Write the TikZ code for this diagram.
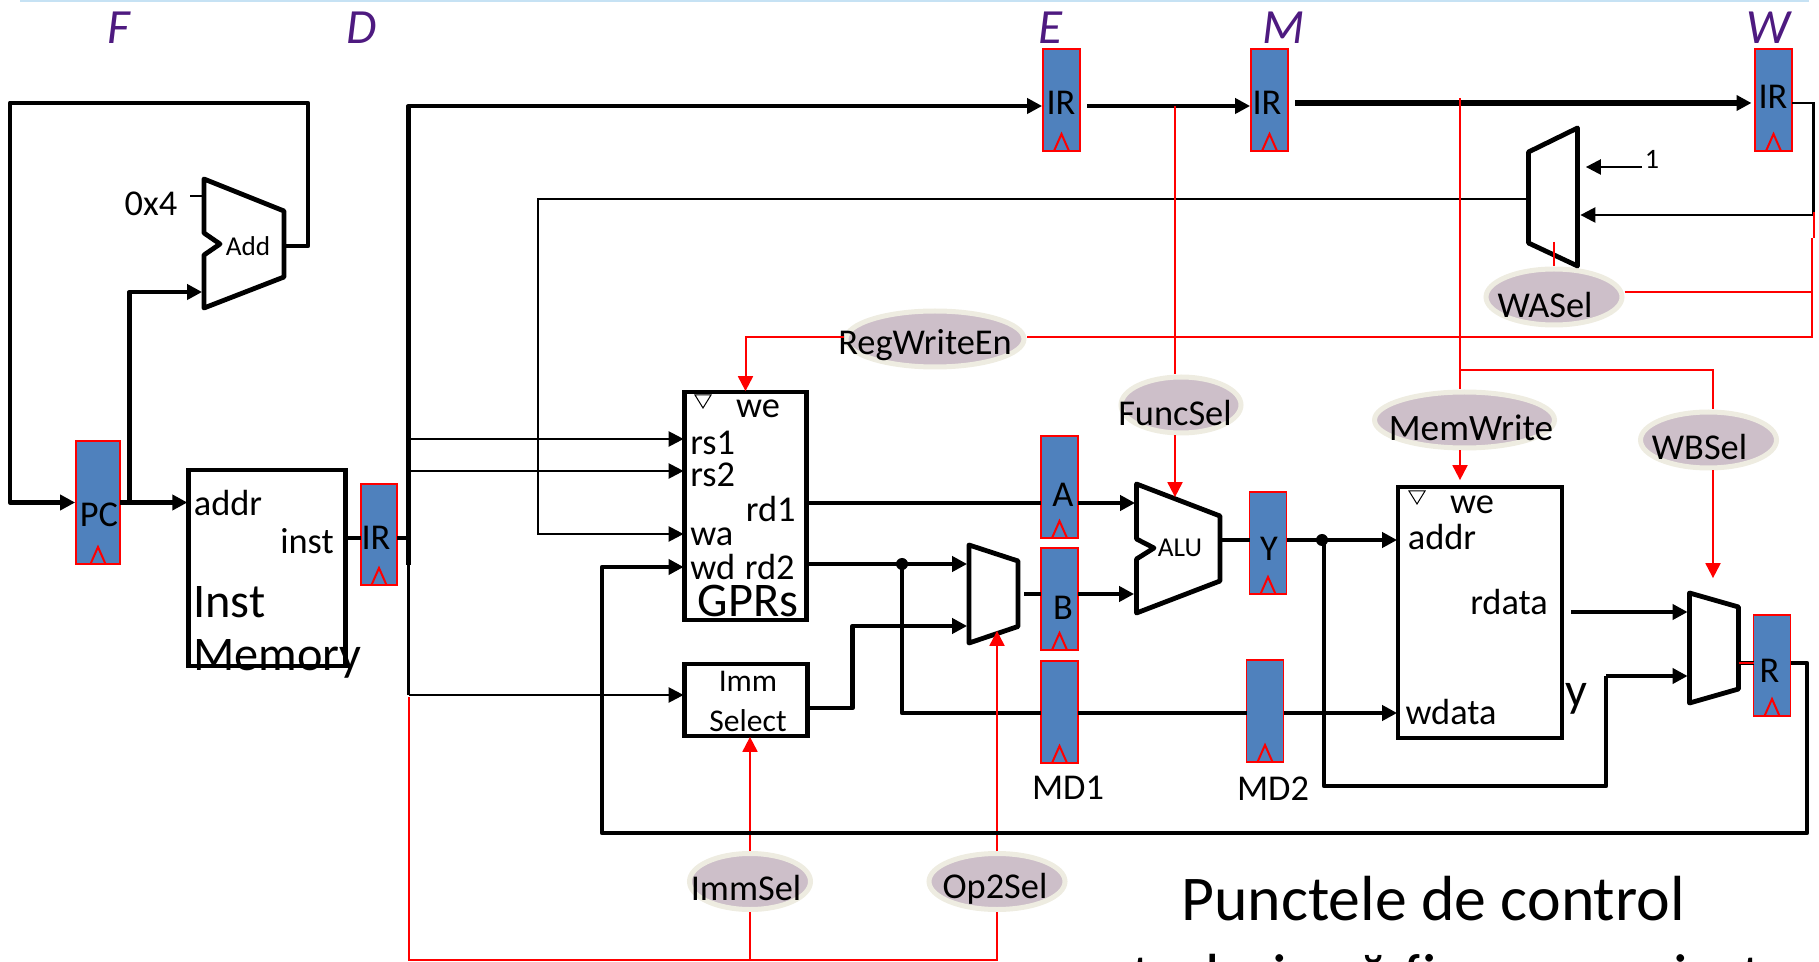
\documentclass[tikz,border=0pt]{standalone}
\usepackage{fontspec}
\setmainfont{Carlito}
\usepackage{xcolor}
\usetikzlibrary{arrows.meta,shapes.geometric}
\definecolor{regblue}{HTML}{4F81BD}
\definecolor{ctlfill}{HTML}{CDBFC9}
\definecolor{ctledge}{HTML}{EEECE1}
\definecolor{stagepurple}{HTML}{4E1A80}
\definecolor{rulesky}{HTML}{C6E2F4}
\def\u{0.02cm}
\tikzset{
  lbl/.style={inner sep=0pt, font=\fontsize{20.7}{25}\selectfont},
  biglbl/.style={inner sep=0pt, font=\fontsize{27.5}{33}\selectfont},
  smalllbl/.style={inner sep=0pt, font=\fontsize{15.5}{19}\selectfont},
  immlbl/.style={inner sep=0pt, font=\fontsize{18}{22}\selectfont},
  stagelbl/.style={inner sep=0pt, text=stagepurple, font=\fontsize{28}{34}\selectfont\itshape},
  box/.style={draw, line width=4.8*\u, outer sep=0pt, inner sep=0pt},
  reg/.style={draw=red, fill=regblue, line width=1.8*\u, outer sep=0pt, inner sep=0pt},
  ctl/.style={ellipse, draw=ctledge, fill=ctlfill, line width=5*\u, inner sep=0pt},
  mux/.style={draw, fill=white, line width=4.8*\u, line join=round},
  bus/.style={line width=4.8*\u, line join=round},
  wire/.style={line width=2.4*\u},
  ctlwire/.style={red, line width=2*\u},
  arr/.style={-{Triangle[length=8.5pt,width=8.5pt]}, shorten >=0.5pt},
}
\begin{document}
\begin{tikzpicture}[x=\u, y=-\u]
  \useasboundingbox (0,0) rectangle (1819,962);
  \clip (0,0) rectangle (1819,962);
  \coordinate (ruleL) at (20,1);
  \coordinate (ruleR) at (1809,1);
  \draw[rulesky, line width=2*\u] (ruleL) -- (ruleR);
  % Pipeline stage letters.
  \foreach \n/\x/\t in {F/119/F,D/362/D,E/1050/E,M/1284/M,W/1768/W} {
    \node[stagelbl] (stage\n) at (\x,28) {\t};
  }
  % Big blocks.
  \node[box, minimum width=157.5*\u, minimum height=196*\u] (inst) at (267,568) {};
  \node[box, minimum width=122*\u, minimum height=228*\u] (gprs) at (745.5,506) {};
  \node[box, minimum width=123*\u, minimum height=72*\u] (imm) at (746,700) {};
  \node[box, minimum width=164*\u, minimum height=251*\u] (dmem) at (1480,612.5) {};
  % Pipeline registers with their clock wedge.
  \foreach \n/\x/\y/\w/\h in {regPC/98/502.5/44/123, regD/379/534.5/36/101,
    regE/1061.5/100/37/102, regM/1269.5/100/37/102, regW/1773.5/100/37/102,
    regA/1059.5/487/37/102, regB/1059.5/599/37/102, regMA/1059.5/712/37/102,
    regY/1268/543/37/102, regMB/1265/711/37/102, regR/1772/665.5/37/101} {
    \node[reg, minimum width=\w*\u, minimum height=\h*\u] (\n) at (\x,\y) {};
    \draw[red, line width=2*\u] ([xshift=-7.5*\u]\n.south) -- ([yshift=17*\u]\n.south) -- ([xshift=7.5*\u]\n.south);
  }
  % Text inside the registers and the blocks.
  \node[lbl] (tPC) at (99,515) {PC};
  \node[lbl] (tIRd) at (376,538) {IR};
  \node[lbl] (tIRe) at (1061,103) {IR};
  \node[lbl] (tIRm) at (1267,103) {IR};
  \node[lbl] (tIRw) at (1773,97) {IR};
  \node[lbl] (tA) at (1063,495) {A};
  \node[lbl] (tB) at (1063,608) {B};
  \node[lbl] (tY) at (1269,549) {Y};
  \node[lbl] (tR) at (1769.5,671) {R};
  \node[lbl] (tMDa) at (1068,788) {MD1};
  \node[lbl] (tMDb) at (1273,789) {MD2};
  \node[lbl] (tAddr) at (228,503) {addr};
  \node[lbl] (tInst) at (307,541) {inst};
  \node[biglbl, anchor=west] (tIname) at (193,602) {Inst};
  \node[biglbl, anchor=base west] (tMname) at (193,670) {Memory};
  \node[lbl] (t0x) at (151,204) {0x4};
  \node[lbl] (tWe) at (758,409) {we};
  \node[lbl, anchor=west] (tRsa) at (690,443) {rs1};
  \node[lbl, anchor=west] (tRsb) at (690,475) {rs2};
  \node[lbl, anchor=east] (tRda) at (796,509) {rd1};
  \node[lbl, anchor=west] (tWa) at (690,537) {wa};
  \node[lbl, anchor=west] (tWd) at (690,567) {wd};
  \node[lbl, anchor=east] (tRdb) at (795,567) {rd2};
  \node[biglbl] (tGprs) at (748,601) {GPRs};
  \node[immlbl] (tImm) at (748,681) {Imm};
  \node[immlbl] (tSel) at (748,721) {Select};
  \node[lbl] (tWeb) at (1472,505) {we};
  \node[lbl] (tAddrb) at (1442,537) {addr};
  \node[lbl] (tRdata) at (1509,602) {rdata};
  \node[lbl] (tWdata) at (1451,712) {wdata};
  \node[biglbl] (tStray) at (1576,699) {y};
  \node[lbl, font=\fontsize{16}{19}\selectfont] (tOne) at (1652,159) {1};
  \node[inner sep=0pt, font=\fontsize{36.3}{44}\selectfont] (tTitle) at (1433,899) {Punctele de control};
  \node[inner sep=0pt, anchor=base west, font=\fontsize{36.3}{44}\selectfont] (tTitleb) at (1131,998) {trebuie să fie memorizate};
  % Control signal bubbles.
  \foreach \n/\x/\y/\w/\tx/\ty/\t in {sReg/935/339/183/925/345/RegWriteEn,
    sFunc/1181/405/125/1175/413/FuncSel, sMem/1464.5/420/185/1471/428/{\fontsize{21.2}{26}\selectfont MemWrite},
    sWb/1708.5/440/141/1699.5/447/WBSel, sWa/1554/297/141/1545/305/WASel,
    sImm/750/881.5/126/746/888/ImmSel, sOp/997/881.5/141/995/889/Op2Sel} {
    \node[ctl, minimum width=(\w-5)*\u, minimum height=56*\u] (\n) at (\x,\y) {};
    \node[lbl] (t\n) at (\tx,\ty) {\t};
  }
  % Adder, ALU and the muxes.
  \draw[mux] (204,179) -- (284,211) -- (284,277) -- (204,308) -- (204,255) -- (220,244) -- (204,233) -- cycle;
  \draw[mux] (1136.5,484) -- (1220,516) -- (1220,581) -- (1136.5,613) -- (1136.5,559) -- (1154,548) -- (1136.5,539) -- cycle;
  \draw[mux] (969,545) -- (1018,561) -- (1018,626.5) -- (969,643) -- cycle;
  \draw[mux] (1577.5,128) -- (1577.5,266) -- (1528.5,243) -- (1528.5,152) -- cycle;
  \draw[mux] (1689.5,593) -- (1738.5,607) -- (1738.5,689) -- (1689.5,703) -- cycle;
  \node[smalllbl] (tAdd) at (248,246) {Add};
  \node[smalllbl] (tAlu) at (1180,548) {ALU};
  % Clock marks of the two write ports.
  \foreach \n/\x/\y in {clkG/703/395, clkM/1417/491} {
    \draw[fill=white, line width=1*\u] (\x-8,\y) -- (\x+8,\y) -- (\x,\y+13) -- cycle;
  }
  % Fetch.
  \coordinate (addOut) at (286,246);
  \coordinate (loopR) at (308,103);
  \coordinate (loopL) at (10,502.5);
  \coordinate (pcTap) at (129.5,502.5);
  \coordinate (addB) at (203,292);
  \coordinate (addA) at (203,196);
  \coordinate (addAfree) at (190,196);
  \draw[bus, arr] (addOut) -| (loopR) -| (loopL) -- (regPC.west);
  \draw[bus, arr] (regPC.east) -- (regPC.east -| inst.west);
  \draw[bus, arr] (pcTap) |- (addB);
  \draw[wire] (addAfree) -- (addA);
  % Decode.
  \coordinate (instOut) at (346,538);
  \coordinate (busIn) at (408.5,538);
  \coordinate (busTop) at (408.5,106);
  \coordinate (busEnd) at (408.5,565);
  \coordinate (busLow) at (408.5,695);
  \coordinate (busA) at (408.5,439);
  \coordinate (busB) at (408.5,471);
  \coordinate (waTop) at (538,199);
  \coordinate (waIn) at (538,534);
  \coordinate (muxWaOut) at (1528.5,199);
  \draw[bus] (instOut) -- (instOut -| regD.west);
  \draw[bus] (busIn -| regD.east) -- (busIn);
  \draw[bus, arr] (busEnd) -- (busTop) -- (busTop -| regE.west);
  \draw[wire] (busEnd) -- (busLow);
  \draw[wire, arr] (busLow) -- (busLow -| imm.west);
  \draw[wire, arr] (busA) -- (busA -| gprs.west);
  \draw[wire, arr] (busB) -- (busB -| gprs.west);
  \draw[wire, arr] (muxWaOut) -- (waTop) -- (waIn) -- (waIn -| gprs.west);
  % Execute.
  \coordinate (rdaOut) at (807,503);
  \coordinate (rdbOut) at (807,564);
  \coordinate (muxOpA) at (968,564);
  \coordinate (muxOpB) at (968,626);
  \coordinate (muxOpOut) at (1024,594);
  \coordinate (aluA) at (1136,503);
  \coordinate (aluB) at (1135,594);
  \coordinate (aluOut) at (1220,540);
  \coordinate (dotA) at (902,564);
  \coordinate (mdTurn) at (902,713);
  \coordinate (immOut) at (808,708);
  \coordinate (immUp) at (852.5,626);
  \coordinate (eOut) at (1087,106);
  \coordinate (mOut) at (1295,103);
  \draw[bus] (rdaOut) -- (rdaOut -| regA.west);
  \draw[bus, arr] (rdaOut -| regA.east) -- (aluA);
  \draw[bus, arr] (rdbOut) -- (muxOpA);
  \fill (dotA) circle (6);
  \draw[bus] (dotA) -- (mdTurn) -- (mdTurn -| regMA.west);
  \draw[bus] (mdTurn -| regMA.east) -- (mdTurn -| regMB.west);
  \draw[bus, arr] (immOut) -| (immUp) -- (muxOpB);
  \draw[bus] (muxOpOut) -- (muxOpOut -| regB.west);
  \draw[bus, arr] (muxOpOut -| regB.east) -- (aluB);
  \draw[bus] (aluOut) -- (aluOut -| regY.west);
  \draw[bus, arr] (eOut) -- (eOut -| regM.west);
  \draw[line width=5.6*\u, arr, shorten >=2pt] (mOut) -- (mOut -| regW.west);
  % Memory and write back.
  \coordinate (dotB) at (1322,540);
  \coordinate (yDown) at (1324,786);
  \coordinate (yRise) at (1606,676);
  \coordinate (muxRb) at (1688.5,676);
  \coordinate (rdataOut) at (1571,612);
  \coordinate (muxRa) at (1688.5,612);
  \coordinate (muxROut) at (1738.5,663);
  \coordinate (wbA) at (1813.5,103);
  \coordinate (wbB) at (1813.5,215);
  \coordinate (muxWaIn) at (1579.5,215);
  \coordinate (oneFree) at (1642,167);
  \coordinate (muxWaOne) at (1585,167);
  \draw[bus, arr] (regY.east |- dotB) -- (dotB -| dmem.west);
  \fill (dotB) circle (6);
  \draw[bus] (dotB -| yDown) -- (yDown) -| (yRise);
  \draw[bus, arr] (yRise) -- (muxRb);
  \draw[bus, arr] (mdTurn -| regMB.east) -- (mdTurn -| dmem.west);
  \draw[bus, arr] (rdataOut) -- (muxRa);
  \draw[bus] (muxROut) -- (muxROut -| regR.west);
  \draw[ctlwire] (muxROut) -- (muxROut -| regR.west);
  \draw[wire] (wbA -| regW.east) -- (wbA) -- (wbB);
  \draw[wire, arr] (wbB) -- (muxWaIn);
  \draw[wire, arr] (oneFree) -- (muxWaOne);
  % Control wires.
  \coordinate (redD) at (408.5,697);
  \coordinate (redB) at (408.5,960);
  \coordinate (redW) at (1811.5,337);
  \coordinate (redS) at (1811.5,292);
  \coordinate (redWa) at (1813.5,212);
  \coordinate (redWb) at (1813.5,238);
  \coordinate (redWc) at (1811.5,238);
  \coordinate (redF) at (1175,106);
  \coordinate (aluTop) at (1175,498);
  \coordinate (redM) at (1460,98);
  \coordinate (redJ) at (1460,370);
  \coordinate (memTop) at (1460,481);
  \coordinate (muxRTop) at (1713,579);
  \coordinate (muxOpIn) at (997,630);
  \coordinate (waTick) at (1554,242);
  \draw[ctlwire] (redD) -- (redB) -| (sOp.south);
  \draw[ctlwire] (sImm.south) -- (sImm.south |- redB);
  \draw[ctlwire, arr] (sImm.north) -- (sImm.north |- imm.south);
  \draw[ctlwire, arr] (sOp.north) -- (muxOpIn);
  \draw[ctlwire] (redWa) -- (redWb);
  \draw[ctlwire] (redWc) -- (redW) -- (redW -| sReg.east);
  \draw[ctlwire, arr] (redW -| sReg.west) -| (gprs.north);
  \draw[ctlwire] (redS -| sWa.east) -- (redS);
  \draw[ctlwire] (waTick) -- (waTick |- sWa.north);
  \draw[ctlwire] (redF) -- (redF |- sFunc.north);
  \draw[ctlwire, arr] (redF |- sFunc.south) -- (aluTop);
  \draw[ctlwire] (redM) -- (redM |- sMem.north);
  \draw[ctlwire, arr] (redM |- sMem.south) -- (memTop);
  \draw[ctlwire, line width=2.6*\u] (redJ) -| (muxRTop |- sWb.north);
  \draw[ctlwire, arr] (muxRTop |- sWb.south) -- (muxRTop);
  % Long write back wire, on top of the control wires.
  \coordinate (rbTurn) at (1807,663);
  \coordinate (rbLow) at (1807,833);
  \coordinate (rbLeft) at (602,833);
  \coordinate (wdIn) at (602,567);
  \draw[bus, arr] (rbTurn -| regR.east) -- (rbTurn) -- (rbLow) -- (rbLeft) -- (wdIn) -- (wdIn -| gprs.west);
\end{tikzpicture}
\end{document}
